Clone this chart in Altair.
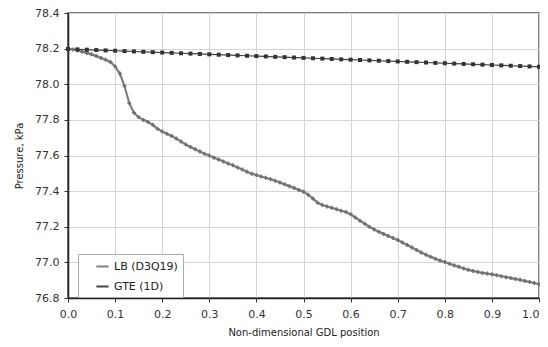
import altair as alt
import pandas as pd

# LB (D3Q19): x step 0.01
lb_x = [round(i * 0.01, 2) for i in range(101)]
lb_p = [78.198, 78.195, 78.190, 78.183, 78.176, 78.168, 78.158, 78.148, 78.137, 78.125,
        78.100, 78.060, 77.990, 77.895, 77.840, 77.815, 77.800, 77.788, 77.772, 77.750,
        77.735, 77.722, 77.710, 77.695, 77.678, 77.662, 77.648, 77.635, 77.622, 77.610,
        77.600, 77.588, 77.577, 77.566, 77.555, 77.545, 77.533, 77.521, 77.509, 77.498,
        77.490, 77.482, 77.475, 77.467, 77.458, 77.448, 77.438, 77.428, 77.418, 77.407,
        77.397, 77.380, 77.358, 77.335, 77.322, 77.314, 77.306, 77.298, 77.290, 77.283,
        77.270, 77.252, 77.234, 77.217, 77.200, 77.185, 77.172, 77.160, 77.148, 77.137,
        77.126, 77.112, 77.098, 77.084, 77.070, 77.055, 77.043, 77.031, 77.020, 77.010,
        77.002, 76.992, 76.983, 76.975, 76.966, 76.958, 76.952, 76.946, 76.941, 76.937,
        76.933, 76.928, 76.922, 76.917, 76.912, 76.907, 76.902, 76.896, 76.890, 76.884,
        76.877]

# GTE (1D): x step 0.02
gte_x = [round(i * 0.02, 2) for i in range(51)]
gte_p = [78.198, 78.196, 78.194, 78.192, 78.190, 78.188, 78.186, 78.184, 78.182, 78.180,
         78.178, 78.176, 78.174, 78.172, 78.170, 78.168, 78.166, 78.164, 78.162, 78.160,
         78.158, 78.156, 78.154, 78.152, 78.150, 78.148, 78.146, 78.144, 78.142, 78.140,
         78.138, 78.136, 78.134, 78.132, 78.130, 78.128, 78.126, 78.124, 78.122, 78.120,
         78.118, 78.116, 78.114, 78.112, 78.110, 78.108, 78.106, 78.104, 78.102, 78.100,
         78.098]

series_names = ["LB (D3Q19)", "GTE (1D)"]
line_colors = ["#808080", "#444444"]
line_widths = [2.2, 1.2]
marker_colors = ["#707070", "#333333"]
series_shapes = ["cross", "square"]

df = pd.concat([
    pd.DataFrame({"x": lb_x, "p": lb_p, "s": series_names[0]}),
    pd.DataFrame({"x": gte_x, "p": gte_p, "s": series_names[1]}),
])

font = "DejaVu Sans"

xenc = alt.X("x:Q", scale=alt.Scale(domain=[0, 1], nice=False),
             axis=alt.Axis(title="Non-dimensional GDL position", values=[i / 10 for i in range(11)],
                           format=".1f", tickSize=4, labelPadding=6, titlePadding=8,
                           labelFlush=False,
                           labelAlign=alt.expr("datum.value >= 0.99 ? 'right' : 'center'")))
yenc = alt.Y("p:Q", scale=alt.Scale(domain=[76.8, 78.4], nice=False, zero=False),
             axis=alt.Axis(title="Pressure, kPa", values=[76.8 + 0.2 * i for i in range(9)],
                           format=".1f", tickSize=4, labelPadding=5, titlePadding=10,
                           labelFlush=False))

color_scale = alt.Scale(domain=series_names, range=line_colors)

legend_lines = alt.Legend(title=None, orient="none", legendX=10, legendY=241,
                          fillColor="white", strokeColor="#aaaaaa", padding=5,
                          labelFont=font, labelFontSize=11, labelColor="#222",
                          symbolType="stroke", symbolSize=150, symbolStrokeWidth=2,
                          symbolOffset=12, rowPadding=7, labelOffset=4)

layers = []
for name, lw in zip(series_names, line_widths):
    layers.append(
        alt.Chart(df).transform_filter(alt.datum.s == name).mark_line(strokeWidth=lw).encode(
            x=xenc, y=yenc,
            color=alt.Color("s:N", scale=color_scale, legend=legend_lines),
        )
    )

for name, mc, shp in zip(series_names, marker_colors, series_shapes):
    layers.append(
        alt.Chart(df).transform_filter(alt.datum.s == name).mark_point(
            filled=True, opacity=1, size=16, strokeWidth=0, shape=shp, color=mc
        ).encode(x=xenc, y=yenc)
    )

chart = alt.layer(*layers).properties(
    width=471, height=285,
    autosize=alt.AutoSizeParams(type="none"),
    padding={"left": 60, "top": 5, "right": 1, "bottom": 41},
).configure_view(
    stroke="#555555", strokeWidth=1.5
).configure_axis(
    labelFont=font, titleFont=font, labelFontSize=11, titleFontSize=10,
    labelColor="#333333", titleColor="#222222", titleFontWeight="normal",
    gridColor="#d4d4d4", gridWidth=1, domainColor="#222222", domainWidth=1.5,
    tickColor="#333333",
)

chart.save("out.html", embed_options={"renderer": "svg", "actions": False})
